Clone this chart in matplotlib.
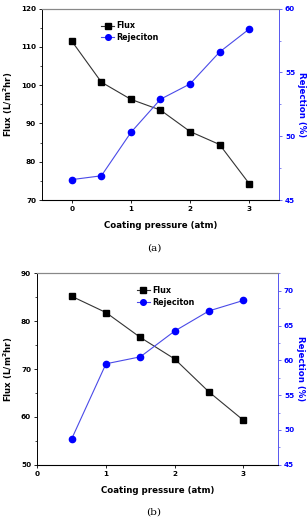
import matplotlib
matplotlib.use("Agg")
import matplotlib.pyplot as plt
from matplotlib.ticker import MultipleLocator

# Panel (a)
pressure_a = [0, 0.5, 1, 1.5, 2, 2.5, 3]
flux_a = [111.5, 100.8, 96.3, 93.5, 87.9, 84.5, 74.3]
rej_a = [46.6, 46.9, 50.3, 52.9, 54.1, 56.6, 58.4]

# Panel (b)
pressure_b = [0.5, 1, 1.5, 2, 2.5, 3]
flux_b = [85.2, 81.8, 76.6, 72.1, 65.2, 59.3]
rej_b = [48.7, 59.5, 60.5, 64.2, 67.1, 68.6]

plt.rcParams['font.family'] = ['DejaVu Sans']
plt.rcParams['font.weight'] = 'bold'

fig = plt.figure(figsize=(3.08, 5.19), dpi=100)

BLUE = '#0000ff'
SPINE_BLUE = '#5555ee'


def panel(rect, x, flux, rej, xlim, ylim_l, ylim_r, xticks, yticks_l, yticks_r,
          legend_anchor, caption, caption_y):
    ax = fig.add_axes(rect)
    ax.plot(x, flux, color='#333333', lw=0.8, marker='s', ms=4.2,
            mfc='black', mec='black', label='Flux')
    ax.set_xlim(*xlim)
    ax.set_ylim(*ylim_l)
    ax.set_xticks(xticks)
    ax.set_yticks(yticks_l)
    ax.yaxis.set_minor_locator(MultipleLocator(5))
    ax.tick_params(axis='both', which='major', labelsize=5.2, length=2.5,
                   width=0.6, pad=2, direction='out')
    ax.tick_params(axis='y', which='minor', length=1.5, width=0.5)
    for lab in ax.get_xticklabels() + ax.get_yticklabels():
        lab.set_fontweight('bold')
    ax.spines['top'].set_color('#888888')
    ax.spines['left'].set_linewidth(0.7)
    ax.spines['bottom'].set_linewidth(0.7)
    ax.spines['right'].set_visible(False)
    ax.set_ylabel('Flux (L/m$^\\mathbf{2}$hr)', fontsize=6.2, fontweight='bold',
                  labelpad=4)
    ax.set_xlabel('Coating pressure (atm)', fontsize=6.2, fontweight='bold',
                  labelpad=6.5)

    ax2 = ax.twinx()
    ax2.plot(x, rej, color='#4a4ae8', lw=0.8, marker='o', ms=4.5,
             mfc=BLUE, mec=BLUE, label='Rejeciton')
    ax2.set_ylim(*ylim_r)
    ax2.set_yticks(yticks_r)
    ax2.yaxis.set_minor_locator(MultipleLocator(2.5))
    ax2.tick_params(axis='y', which='major', labelsize=5.2, length=2.5,
                    width=0.6, pad=2, colors=SPINE_BLUE, labelcolor=BLUE)
    ax2.tick_params(axis='y', which='minor', length=1.5, width=0.5,
                    colors=SPINE_BLUE)
    for lab in ax2.get_yticklabels():
        lab.set_fontweight('bold')
    ax2.spines['right'].set_color(SPINE_BLUE)
    ax2.spines['right'].set_linewidth(0.7)
    ax2.spines['top'].set_color('#888888')
    ax2.spines['left'].set_visible(False)
    ax2.set_ylabel('Rejection (%)', fontsize=6.2, fontweight='bold', color=BLUE,
                   rotation=270, labelpad=8)

    h1, l1 = ax.get_legend_handles_labels()
    h2, l2 = ax2.get_legend_handles_labels()
    ax2.legend(h1 + h2, l1 + l2, loc='upper left',
               bbox_to_anchor=legend_anchor, frameon=False,
               prop={'size': 5.8, 'weight': 'bold'}, handlelength=1.6,
               handletextpad=0.3, labelspacing=0.3, borderaxespad=0,
               markerscale=0.9)
    fig.text(0.5, caption_y, caption, ha='center', va='center',
             fontsize=7.5, family='DejaVu Serif', fontweight='normal')
    return ax, ax2


panel([0.1373, 0.6146, 0.7675, 0.3687], pressure_a, flux_a, rej_a,
      (-0.5, 3.5), (70, 120), (45, 60), [0, 1, 2, 3],
      [70, 80, 90, 100, 110, 120], [45, 50, 55, 60],
      (0.235, 0.95), '(a)', 1 - 248 / 519)

panel([0.1211, 0.1046, 0.7805, 0.3688], pressure_b, flux_b, rej_b,
      (0, 3.5), (50, 90), (45, 72.5), [0, 1, 2, 3],
      [50, 60, 70, 80, 90], [45, 50, 55, 60, 65, 70],
      (0.4, 0.95), '(b)', 1 - 512 / 519)

fig.savefig('out.png', dpi=100)
